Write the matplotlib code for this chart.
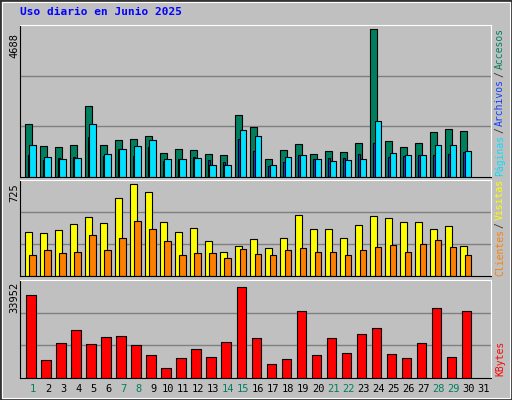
import matplotlib.pyplot as plt
import numpy as np
from matplotlib.patches import Rectangle

days = np.arange(1, 31)
day_labels = [str(d) for d in range(1, 32)]
weekend = [1, 7, 8, 14, 15, 21, 22, 28, 29]

hits = [1690, 989, 957, 1021, 2264, 1021, 1180, 1212, 1308, 765, 893, 861, 733, 702, 1977,
        1595, 574, 861, 1052, 733, 829, 797, 1084, 4688, 1148, 957, 1084, 1435, 1531, 1467]
files = [702, 542, 606, 638, 1276, 670, 893, 670, 957, 510, 574, 638, 542, 478, 1212,
         829, 351, 478, 702, 574, 606, 606, 733, 1084, 638, 670, 702, 702, 733, 797]
pages = [1021, 638, 574, 606, 1690, 733, 893, 989, 1180, 574, 574, 606, 383, 383, 1499,
         1308, 383, 638, 702, 574, 510, 542, 574, 1786, 765, 702, 702, 1021, 1021, 829]
visits = [347, 339, 363, 410, 465, 418, 615, 725, 662, 426, 347, 378, 276, 189, 236,
          292, 221, 300, 481, 370, 370, 300, 402, 473, 457, 426, 426, 370, 394, 236]
visitors = [166, 205, 181, 189, 323, 205, 299, 433, 370, 276, 166, 181, 181, 142, 213,
            173, 166, 205, 221, 189, 189, 166, 205, 229, 244, 189, 252, 284, 229, 166]
kbytes = [30975, 6716, 13060, 17910, 12686, 15298, 15671, 12313, 8581, 3731, 7462, 10820, 7835, 13432, 33952,
          14925, 5224, 7089, 24999, 8581, 14925, 9328, 16417, 18656, 8955, 7462, 13060, 26118, 7835, 24999]

C_HITS, C_FILES, C_PAGES = '#007f5f', '#1040ff', '#00e0ff'
C_VIS, C_UNIQ, C_KB = '#ffff00', '#ff8000', '#ff0000'
BG = '#c0c0c0'
MONO = 'DejaVu Sans Mono'

W, H = 512, 400
fig = plt.figure(figsize=(W / 100, H / 100), dpi=100, facecolor=BG)
fig.patches.append(Rectangle((0, 0), 1, 1, transform=fig.transFigure, fill=False,
                             edgecolor='#333333', lw=2))
fig.patches.append(Rectangle((2 / W, 2 / H), 1 - 4 / W, 1 - 4 / H, transform=fig.transFigure,
                             fill=False, edgecolor='white', lw=0.8))


def panel(y0, y1):
    ax = fig.add_axes([20 / W, 1 - y1 / H, 471 / W, (y1 - y0) / H])
    ax.set_facecolor(BG)
    ax.set_xlim(0.13, 31.5)
    ax.set_xticks([])
    ax.set_yticks([])
    for s in ['top', 'right']:
        ax.spines[s].set_color('white')
    for s in ['left', 'bottom']:
        ax.spines[s].set_color('black')
    return ax


def grid(ax, top):
    for f in (1 / 3, 2 / 3):
        ax.axhline(top * f, color='#808080', lw=1, zorder=0)


ek = dict(edgecolor='black', linewidth=0.8, align='edge')

ax1 = panel(25, 177)
top1 = max(hits) * 152 / 147.7
ax1.set_ylim(0, top1)
grid(ax1, top1)
ax1.bar(days - 0.55, hits, width=0.45, color=C_HITS, **ek)
ax1.bar(days - 0.35, files, width=0.15, color=C_FILES, **ek)
ax1.bar(days - 0.25, pages, width=0.45, color=C_PAGES, **ek)

ax2 = panel(180, 276)
top2 = max(visits) * 96 / 92
ax2.set_ylim(0, top2)
grid(ax2, top2)
ax2.bar(days - 0.55, visits, width=0.45, color=C_VIS, **ek)
ax2.bar(days - 0.25, visitors, width=0.45, color=C_UNIQ, **ek)

ax3 = panel(280, 378)
top3 = max(kbytes) * 98 / 91
ax3.set_ylim(0, top3)
grid(ax3, top3)
ax3.bar(days - 0.45, kbytes, width=0.65, color=C_KB, **ek)

# max values on the left
for txt, y in [(str(max(hits)), 45), (str(max(visits)), 193), (str(max(kbytes)), 297)]:
    fig.text(14 / W, 1 - y / H, txt, rotation=90, ha='center', va='center',
             family=MONO, fontsize=7.5)

# day labels
for i, lab in enumerate(day_labels):
    d = i + 1
    x = ax3.transData.transform((d, 0))[0] / fig.dpi / fig.get_figwidth()
    fig.text(x, 1 - 389 / H, lab, ha='center', va='center', family=MONO, fontsize=7.5,
             color=C_HITS if d in weekend else 'black')


# right side legends, colored pieces stacked bottom to top
def side(parts, ybottom):
    y = ybottom
    step = 5.8
    for txt, col in parts:
        fig.text(500 / W, 1 - y / H, txt, rotation=90, ha='center', va='bottom',
                 family=MONO, fontsize=7, color=col)
        y -= step * len(txt) + 2


side([('Páginas', C_PAGES), ('/', '#333333'), ('Archivos', C_FILES), ('/', '#333333'),
      ('Accesos', C_HITS)], 176)
side([('Clientes', C_UNIQ), ('/', '#333333'), ('Visitas', C_VIS)], 276)
side([('KBytes', C_KB)], 376)

fig.text(20 / W, 1 - 12 / H, 'Uso diario en Junio 2025', family=MONO, fontweight='bold',
         fontsize=8, color='#0000ff', va='center')

fig.savefig('out.png', dpi=100, facecolor=BG)
